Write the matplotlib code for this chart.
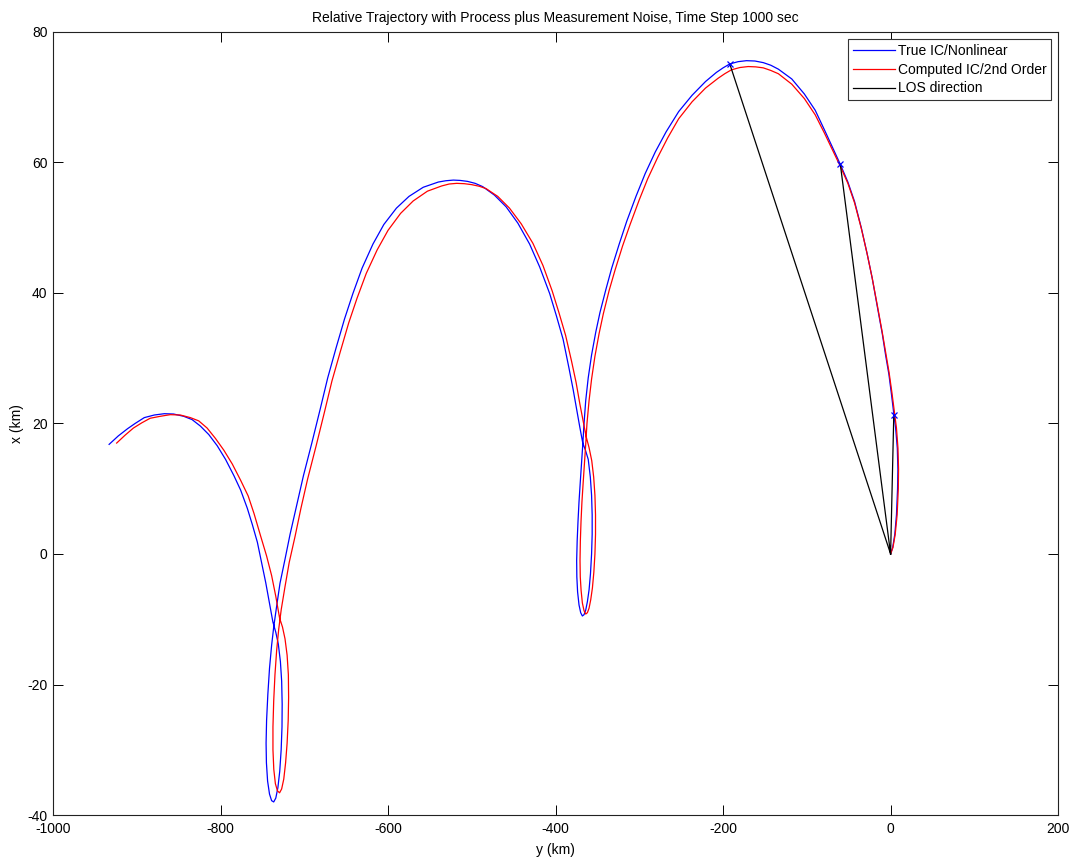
import numpy as np
import matplotlib
matplotlib.use("Agg")
import matplotlib.pyplot as plt

plt.rcParams['font.family'] = ['Liberation Sans', 'DejaVu Sans']
plt.rcParams['axes.unicode_minus'] = False

# True trajectory (nonlinear propagation): along-track y (km), radial x (km)
true_y = [0, 2.5, 5, 7, 8.3, 8.7, 8, 6, 4, 1, -2, -6, -10, -16, -22, -28, -35, -43,
          -51, -60, -70, -79, -90, -103, -118, -134, -143, -152, -162, -172, -182,
          -192, -200, -208, -221, -237, -253, -268, -281, -293, -304, -315, -324,
          -333, -340, -347, -352, -357, -361, -364, -366, -367.5, -369, -370.5,
          -372, -373.2, -374.2, -374.8, -374.6, -373.7, -372, -370, -368, -366,
          -364, -362, -360, -358.3, -357, -356.3, -356.3, -357, -358.5, -361,
          -364.3, -367.5, -371, -375, -379, -384, -391, -399, -407, -419, -431,
          -445, -459, -473, -487, -496, -505, -514, -522, -531, -540, -558, -575,
          -590, -605, -618, -631, -642, -652, -662, -672, -681, -691, -701, -709,
          -717, -723, -729, -733, -736.5, -739, -741.5, -743.5, -745, -745.6,
          -745.2, -743.8, -741.5, -739, -736.5, -734, -731.5, -729.3, -727.6,
          -726.6, -726.4, -727, -728.5, -731, -734, -737.5, -741.5, -746, -751,
          -756, -762, -768, -776, -784, -794, -804, -814, -824, -834, -844, -856,
          -867, -879, -891, -902, -911, -922, -933]
true_x = [0, 1.0, 3, 6, 10, 13, 16.2, 19.3, 21.3, 24.5, 27.5, 30.5, 33.8, 38, 42.3,
          46, 50, 54, 57, 59.7, 62.5, 65, 68, 70.5, 72.8, 74.3, 74.9, 75.3, 75.55,
          75.6, 75.45, 75.1, 74.5, 73.8, 72.4, 70.3, 67.8, 64.7, 61.6, 58.3, 54.8,
          51, 47.5, 43.8, 40.5, 37, 34, 30.5, 27, 23.5, 20, 16.8, 14, 11, 8, 5, 2,
          -1, -3.5, -5.8, -7.8, -9, -9.5, -9.3, -8.6, -7.3, -5.5, -3, 0, 3, 6, 9,
          11.8, 14.5, 15.9, 17.0, 19.4, 22.3, 25.2, 28.5, 32.9, 36.5, 39.9, 44,
          47.5, 50.7, 53.2, 55, 56.3, 56.8, 57.1, 57.25, 57.3, 57.2, 57, 56.2,
          54.8, 53, 50.5, 47.5, 43.8, 39.9, 36, 31.6, 27, 22.2, 17, 12, 7.5, 3,
          -0.8, -4.5, -8, -11.2, -14, -17.5, -21.5, -25.5, -29, -32, -34.8, -36.8,
          -37.8, -38, -37.4, -35.8, -33.3, -30, -26.5, -23, -19.5, -16.5, -13.8,
          -12, -10.4, -7.6, -4.4, -1.3, 1.8, 4.5, 7, 9.8, 12, 14.5, 16.6, 18.3,
          19.6, 20.6, 21.1, 21.45, 21.5, 21.3, 20.9, 20, 19.2, 18.1, 16.8]

# Computed trajectory (estimated IC, 2nd order propagation)
est_y = [0, 2.8, 5.5, 7.8, 9.2, 9.5, 8.8, 7, 4.8, 1.5, -1.8, -5.8, -10, -16, -22,
         -28, -35, -43, -51, -60, -70, -79, -90, -103, -118, -134, -143, -152,
         -161, -170, -180, -190, -198, -206, -221, -237, -253, -266, -278, -290,
         -300, -311, -320, -329, -336, -343, -348, -353, -357, -360, -362.5, -364,
         -365.5, -367, -368.5, -369.6, -370.4, -370.8, -370.5, -369.5, -368, -366,
         -364, -362, -360, -358, -356, -354.3, -353, -352.3, -352.3, -353, -354.5,
         -356.8, -360, -363.5, -367, -371, -375.5, -381, -388, -396, -404, -415,
         -427, -441, -455, -469, -483, -491, -500, -509, -518, -527, -536, -553,
         -570, -585, -600, -613, -626, -637, -647, -657, -667, -676, -686, -696,
         -704, -711, -718, -723, -727.5, -730.5, -733, -735, -736.5, -737.4,
         -737.4, -736.4, -734.5, -732, -729.5, -727, -724.5, -722.3, -720.5,
         -719.2, -718.7, -719, -720.5, -723, -726, -729.5, -734, -739, -745, -752,
         -760, -767, -776, -786, -796, -806, -816, -826, -836, -848, -860, -872,
         -884, -894, -904, -914, -924]
est_x = [0, 1.0, 3, 6, 10, 13, 16.2, 19.3, 21.5, 24.8, 27.8, 30.8, 34, 38.2, 42.3,
         46, 49.9, 53.8, 56.8, 59.4, 62.1, 64.5, 67.3, 69.8, 72, 73.6, 74.1, 74.5,
         74.65, 74.7, 74.55, 74.2, 73.6, 72.9, 71.4, 69.3, 66.7, 63.8, 60.8, 57.5,
         54.3, 50.5, 47.2, 43.5, 40.4, 36.8, 33.8, 30.3, 26.8, 23.5, 20, 16.8, 14,
         11, 8, 5, 2, -1, -3.5, -5.6, -7.5, -8.7, -9.2, -9.0, -8.3, -7, -5.2,
         -2.8, 0, 3, 6, 9, 11.8, 14.3, 16.3, 18, 20.3, 23, 26.3, 29.6, 33.5, 37,
         40.3, 44.2, 47.6, 50.6, 53, 54.8, 56, 56.35, 56.6, 56.75, 56.8, 56.7,
         56.4, 55.6, 54.1, 52.2, 49.6, 46.6, 43, 39.2, 35.4, 31, 26.5, 21.7, 16.5,
         11.5, 7, 2.7, -1.3, -5, -8.5, -11.5, -14.8, -18.5, -22.5, -26.5, -30, -33,
         -35.2, -36.3, -36.6, -36, -34.5, -32, -29, -25.5, -22, -18.5, -15.5, -13,
         -11.2, -9.8, -6.5, -3.3, -0.3, 2.7, 6.2, 8.9, 11.3, 13.8, 15.9, 17.7,
         19.3, 20.4, 20.9, 21.3, 21.35, 21.1, 20.8, 20.1, 19.3, 18.2, 17.0]

# Line-of-sight sample points (on the true trajectory), observer at origin
los_y = [-192, -60, 3.8]
los_x = [75.1, 59.7, 21.3]

fig = plt.figure(figsize=(10.75, 8.57), dpi=100)
ax = fig.add_axes([0.0493, 0.049, 0.935, 0.9137])

ax.plot(true_y, true_x, color='#0000ff', lw=0.9, label='True IC/Nonlinear')
ax.plot(est_y, est_x, color='#ff0000', lw=0.9, label='Computed IC/2nd Order')

seg_y, seg_x = [], []
for yy, xx in zip(los_y, los_x):
    seg_y += [0, yy, np.nan]
    seg_x += [0, xx, np.nan]
ax.plot(seg_y, seg_x, color='black', lw=0.9, label='LOS direction')
ax.plot(los_y, los_x, linestyle='none', marker='x', color='#0000ff', ms=5, mew=0.9)

ax.set_xlim(-1000, 200)
ax.set_ylim(-40, 80)
ax.set_xticks(np.arange(-1000, 201, 200))
ax.set_yticks(np.arange(-40, 81, 20))
ax.tick_params(direction='in', length=7, width=0.7, top=True, right=True,
               labelsize=10)
ax.tick_params(axis='x', pad=5)
ax.tick_params(axis='y', pad=4)
for s in ax.spines.values():
    s.set_linewidth(0.8)
    s.set_color('#222222')

ax.set_title('Relative Trajectory with Process plus Measurement Noise, Time Step 1000 sec',
             fontsize=10, pad=7)
ax.set_xlabel('y (km)', fontsize=10, labelpad=5)
ax.set_ylabel('x (km)', fontsize=10, labelpad=2)

leg = ax.legend(loc='upper right', fontsize=10, handlelength=3.0, handletextpad=0.2,
                labelspacing=0.35, borderpad=0.35, borderaxespad=0.5,
                fancybox=False, framealpha=1, edgecolor='#333333')
leg.get_frame().set_linewidth(0.8)

fig.savefig('out.png', dpi=100)
